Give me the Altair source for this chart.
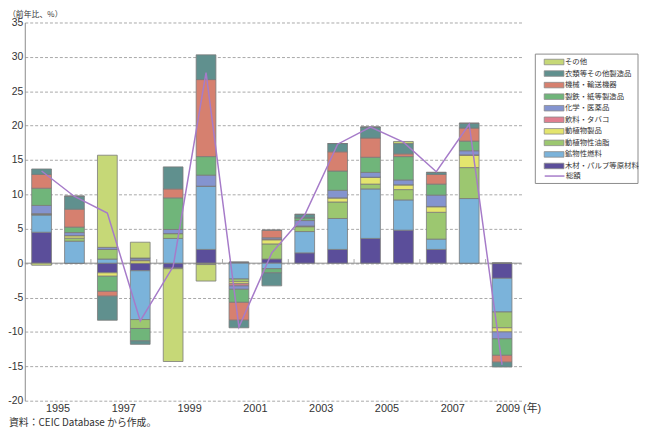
import altair as alt
import pandas as pd

years = list(range(1995, 2010))

# stacking order, bottom up
series_bottom_up = [
    "木材・パルプ等原材料", "鉱物性燃料", "動植物性油脂", "動植物製品", "飲料・タバコ",
    "化学・医薬品", "製鉄・紙等製造品", "機械・輸送機器", "衣類等その他製造品", "その他",
]
colors_bottom_up = [
    "#5b4e9a", "#7bb3da", "#9cc770", "#e4e56e", "#e07f8f",
    "#8494cf", "#70b57a", "#d6806f", "#60908e", "#c6d877",
]

wood  = [4.5, 0.0, -1.4, -1.1, -0.7, 2.0, 0.15, 0.6, 1.5, 2.0, 3.6, 4.8, 2.0, 0.0, -2.2]
fuel  = [2.5, 3.2, 0.6, -7.1, 3.6, 9.2, -2.3, -0.8, 3.1, 4.5, 7.2, 4.4, 1.5, 9.4, -4.9]
oil   = [0.1, 0.45, 1.4, -1.3, 0.7, -0.1, -0.4, 2.2, 0.7, 2.4, 0.7, 1.5, 3.9, 4.5, -2.3]
prod  = [0.05, 0.35, -0.5, 0.35, -0.1, -0.1, -0.3, 0.6, 0.05, 0.6, 1.0, 0.7, 0.8, 1.8, -0.6]
bev   = [0.05, 0.0, 0.0, 0.1, 0.0, 0.0, -0.3, 0.1, 0.05, 0.0, 0.0, 0.0, 0.05, 0.05, 0.0]
chem  = [1.2, 0.45, 0.3, 0.3, 0.6, 1.6, -0.5, 0.2, 0.8, 1.1, 0.7, 0.7, 1.65, 0.6, -1.0]
steel = [2.5, 0.8, -2.2, -1.8, 4.6, 2.7, -1.9, -0.6, 0.4, 2.8, 2.2, 3.4, 1.6, 1.4, -2.4]
mach  = [2.0, 2.6, -0.7, 0.0, 1.3, 11.2, -2.6, 1.1, 0.0, 2.8, 2.8, 0.4, 1.4, 1.9, -1.0]
cloth = [0.8, 1.9, -3.5, -0.5, 3.2, 3.6, -1.1, -1.9, 0.5, 1.2, 1.6, 1.5, 0.3, 0.7, -0.7]
other = [-0.3, 0.0, 13.4, 2.3, -13.5, -2.4, 0.0, 0.0, 0.0, 0.0, 0.0, 0.3, 0.0, 0.0, 0.0]

total = [13.4, 9.7, 7.3, -8.4, -0.5, 27.7, -9.3, 1.5, 7.0, 17.3, 19.8, 17.6, 13.3, 20.2, -14.8]

label_years = [1995, 1997, 1999, 2001, 2003, 2005, 2007, 2009]
tick_years = [1996, 1998, 2000, 2002, 2004, 2006, 2008]
y_ticks = list(range(-20, 36, 5))

values = [wood, fuel, oil, prod, bev, chem, steel, mach, cloth, other]
rows = []
for k, (name, vals) in enumerate(zip(series_bottom_up, values)):
    for y, v in zip(years, vals):
        rows.append({"year": y, "series": name, "value": v, "ord": k})
df = pd.DataFrame(rows)

legend_order = series_bottom_up[::-1]
legend_colors = colors_bottom_up[::-1]

FONT = "Liberation Sans, Noto Sans CJK JP"
JFONT = "Noto Sans CJK JP"

xscale = alt.Scale(domain=[1994.49, 2009.59], nice=False, zero=False, padding=0)
yscale = alt.Scale(domain=[-20, 35], nice=False, padding=0)
yaxis = alt.Axis(
    values=y_ticks, title=None, grid=True, gridDash=[3, 2],
    gridColor="#a8a8a8", gridWidth=1, domainColor="#8a8a8a", ticks=False,
    labelFont=FONT, labelFontSize=10.5, labelColor="#333333", labelPadding=2,
    labelOverlap=False,
    labelExpr="datum.value < 0 ? '-' + abs(datum.value) : '' + datum.value",
)

box = alt.Chart(pd.DataFrame({"a": [0]})).mark_rect(
    fill="white", stroke="#8a8a8a", strokeWidth=1
).encode(x=alt.value(517), x2=alt.value(621), y=alt.value(32), y2=alt.value(163))

zero = alt.Chart(pd.DataFrame({"v": [0]})).mark_rule(color="#8a8a8a", strokeWidth=1).encode(
    y=alt.Y("v:Q", scale=yscale, axis=yaxis)
)

bars = alt.Chart(df).mark_bar(width=20, stroke="#7a7a7a", strokeWidth=0.8).encode(
    x=alt.X("year:Q", scale=xscale, axis=None),
    y=alt.Y("value:Q", stack="zero", scale=yscale, axis=yaxis),
    color=alt.Color(
        "series:N",
        scale=alt.Scale(domain=legend_order, range=legend_colors),
        legend=alt.Legend(
            orient="none", legendX=531, legendY=35, title=None,
            symbolType="M-2.22,-0.62L2.22,-0.62L2.22,0.62L-2.22,0.62Z", symbolSize=81,
            symbolStrokeColor="#8a8a8a", symbolStrokeWidth=0.8,
            labelFont=JFONT, labelFontSize=7.5, labelColor="#333333",
            labelOffset=6, rowPadding=1.7, padding=0, labelLimit=200,
        ),
    ),
    order=alt.Order("ord:Q", sort="ascending"),
)

tdf = pd.DataFrame({"t": tick_years})
ticks = alt.Chart(tdf).transform_calculate(
    tx="datum.t + 0.5", z0="0", z1="0.6"
).mark_rule(color="#aaaaaa", strokeWidth=1).encode(
    x=alt.X("tx:Q", scale=xscale, axis=None),
    y=alt.Y("z0:Q", scale=yscale, axis=yaxis),
    y2="z1:Q",
)

line = alt.Chart(pd.DataFrame({"year": years, "total": total, "name": ["総額"] * len(years)})).mark_line(
    strokeWidth=1.5
).encode(
    x=alt.X("year:Q", scale=xscale, axis=None),
    y=alt.Y("total:Q", scale=yscale, axis=yaxis),
    stroke=alt.Stroke(
        "name:N", scale=alt.Scale(domain=["総額"], range=["#a67bc9"]),
        legend=alt.Legend(
            orient="none", legendX=531, legendY=150, title=None,
            symbolType="M-2.22,0L2.22,0", symbolSize=81, symbolStrokeWidth=1.5,
            labelFont=JFONT, labelFontSize=7.5, labelColor="#333333",
            labelOffset=6, padding=0,
        ),
    ),
)

ldf = pd.DataFrame({"y": label_years})
ldf["txt"] = [str(v) if v != 2009 else "2009 (年)" for v in label_years]
labels = alt.Chart(ldf).transform_calculate(lx="datum.y + 0.5").mark_text(
    font=FONT, fontSize=11, color="#333333", baseline="middle", align="center"
).encode(x=alt.X("lx:Q", scale=xscale, axis=None), y=alt.value(391), text="txt:N")

title = alt.Chart(pd.DataFrame({"t": ["（前年比、%）"]})).mark_text(
    font=JFONT, fontSize=8, color="#333333", align="left", baseline="top"
).encode(x=alt.value(-17), y=alt.value(-12), text="t:N")

footer = alt.Chart(pd.DataFrame({"t": ["資料：CEIC Database から作成。"]})).mark_text(
    font=JFONT, fontSize=10, color="#333333", align="left", baseline="middle"
).encode(x=alt.value(-16), y=alt.value(406), text="t:N")

chart = alt.layer(zero, bars, ticks, line, labels, title, footer, box).properties(
    width=503, height=383,
    padding={"left": 17, "top": 12, "right": 119, "bottom": 28},
    autosize=alt.AutoSizeParams(type="none"),
).configure_view(stroke=None)

chart.save("out.html", embed_options={"renderer": "svg", "actions": False})
